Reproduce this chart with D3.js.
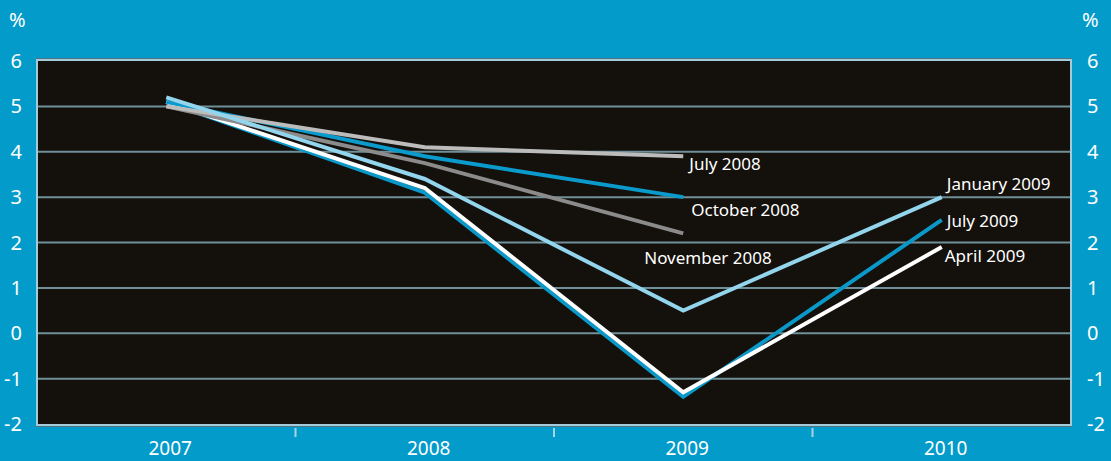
<!DOCTYPE html>
<html>
<head>
<meta charset="utf-8">
<script src="https://cdn.jsdelivr.net/npm/d3@7"></script>
<style>
	html, body { margin: 0; padding: 0; background: #029bca; }
	svg { display: block; font-family: "Noto Sans", "Open Sans", sans-serif; }
</style>
</head>
<body>
<svg id="chart"></svg>
<script>
// years on the x axis
var years = ["2007", "2008", "2009", "2010"];
var yTicks = [-2, -1, 0, 1, 2, 3, 4, 5, 6];

// forecasts, one array per forecast date (null = no value)
var july2008     = [5.0, 4.1, 3.9, null];
var october2008  = [5.1, 3.9, 3.0, null];
var november2008 = [5.0, 3.75, 2.2, null];
var january2009  = [5.2, 3.4, 0.5, 3.0];
var april2009    = [5.1, 3.2, -1.3, 1.9];
var july2009     = [5.1, 3.1, -1.4, 2.5];

var seriesNames = ["July 2009", "April 2009", "November 2008", "October 2008", "July 2008", "January 2009"];
var seriesValues = [july2009, april2009, november2008, october2008, july2008, january2009];

var width = 1111, height = 461;
var margin = { top: 61, right: 40, bottom: 37, left: 37 };

var colors = {
	"July 2008": "#bcbcbc",
	"October 2008": "#0a9acb",
	"November 2008": "#8b8b8b",
	"January 2009": "#92d5ec",
	"April 2009": "#ffffff",
	"July 2009": "#0a98c9"
};
// where each end label sits relative to the last point
var labelOffset = {
	"July 2008": [6, 14],
	"October 2008": [8, 19],
	"November 2008": [-39, 31],
	"January 2009": [5, -7],
	"July 2009": [5, 7],
	"April 2009": [3, 15]
};

var svg = d3.select("#chart").attr("width", width).attr("height", height);

var x = d3.scaleBand().domain(years).range([margin.left, width - margin.right]);
var y = d3.scaleLinear().domain([-2, 6]).range([height - margin.bottom, margin.top]);
var cx = function(d) { return x(d) + x.bandwidth() / 2; };

// plot background
svg.append("rect")
	.attr("x", margin.left - 1).attr("y", margin.top - 3)
	.attr("width", x.range()[1] - margin.left + 2).attr("height", y(-2) - margin.top + 6)
	.attr("fill", "#4f7382");
svg.append("rect")
	.attr("x", margin.left).attr("y", margin.top - 1)
	.attr("width", x.range()[1] - margin.left).attr("height", y(-2) - margin.top + 2)
	.attr("fill", "#14100b")
	.attr("stroke", "#a3cbd9").attr("stroke-width", 2);

// gridlines
svg.append("g").selectAll("line").data(yTicks.filter(function(d) { return d > -2 && d < 6; }))
	.enter().append("line")
	.attr("x1", margin.left + 1).attr("x2", x.range()[1] - 1)
	.attr("y1", function(d) { return y(d); }).attr("y2", function(d) { return y(d); })
	.attr("stroke", "#6f8f99").attr("stroke-width", 2);

// y labels both sides
svg.append("g").selectAll("text").data(yTicks).enter().append("text")
	.attr("x", 22).attr("y", function(d) { return y(d) + 7; })
	.attr("text-anchor", "end").attr("fill", "#fff").attr("font-size", 20)
	.text(function(d) { return d; });
svg.append("g").selectAll("text").data(yTicks).enter().append("text")
	.attr("x", 1087).attr("y", function(d) { return y(d) + 7; })
	.attr("text-anchor", "start").attr("fill", "#fff").attr("font-size", 20)
	.text(function(d) { return d; });
svg.append("text").attr("x", 9).attr("y", 27).attr("fill", "#fff").attr("font-size", 20).text("%");
svg.append("text").attr("x", 1082).attr("y", 27).attr("fill", "#fff").attr("font-size", 20).text("%");

// x axis: ticks between the years, labels under the years
var xTickPos = years.slice(1).map(function(d) { return x(d); });
svg.append("g").selectAll("line").data(xTickPos).enter().append("line")
	.attr("x1", function(d) { return d; }).attr("x2", function(d) { return d; })
	.attr("y1", y(-2) + 4).attr("y2", y(-2) + 13)
	.attr("stroke", "#a9d5e3").attr("stroke-width", 2);
svg.append("g").selectAll("text").data(years).enter().append("text")
	.attr("x", function(d) { return cx(d) + 4; }).attr("y", 455)
	.attr("text-anchor", "middle").attr("fill", "#fff").attr("font-size", 19)
	.text(function(d) { return d; });

// lines
var line = d3.line()
	.defined(function(d) { return d.v !== null; })
	.x(function(d) { return cx(d.year); })
	.y(function(d) { return y(d.v); });

seriesNames.forEach(function(name, i) {
	var pts = years.map(function(yr, j) { return { year: yr, v: seriesValues[i][j] }; });
	svg.append("path")
		.datum(pts)
		.attr("d", line)
		.attr("fill", "none")
		.attr("stroke", colors[name])
		.attr("stroke-width", 4);

	var last = pts.filter(function(d) { return d.v !== null; }).pop();
	svg.append("text")
		.attr("x", cx(last.year) + labelOffset[name][0])
		.attr("y", y(last.v) + labelOffset[name][1])
		.attr("fill", "#fff").attr("font-size", 17)
		.text(name);
});
</script>
</body>
</html>
